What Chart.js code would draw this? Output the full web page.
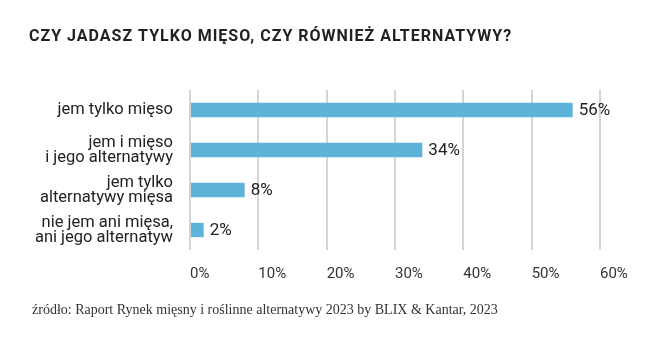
<!DOCTYPE html>
<html>
<head>
<meta charset="utf-8">
<script src="https://cdn.jsdelivr.net/npm/chart.js@4/dist/chart.umd.min.js"></script>
<style>
  html, body { margin: 0; padding: 0; background: #fff; }
  #wrap { width: 649px; height: 347px; position: relative; }
</style>
</head>
<body>
<div id="wrap"><canvas id="meatChart"></canvas></div>
<script>
const title = 'CZY JADASZ TYLKO MIĘSO, CZY RÓWNIEŻ ALTERNATYWY?';
const source = 'źródło: Raport Rynek mięsny i roślinne alternatywy 2023 by BLIX & Kantar, 2023';

const categories = [
  ['jem tylko mięso'],
  ['jem i mięso', 'i jego alternatywy'],
  ['jem tylko', 'alternatywy mięsa'],
  ['nie jem ani mięsa,', 'ani jego alternatyw']
];
const values = [56, 34, 8, 2];
const xTicks = [0, 10, 20, 30, 40, 50, 60];

const BAR = '#5db3d9';
const TEXT = '#222222';
const SANS = 'Roboto, "DejaVu Sans", sans-serif';

// title on top, source line at the bottom
const headerFooter = {
  id: 'headerFooter',
  afterDraw(chart) {
    const ctx = chart.ctx;
    ctx.save();
    ctx.fillStyle = TEXT;
    ctx.textBaseline = 'middle';
    ctx.textAlign = 'left';
    ctx.font = 'bold 16px ' + SANS;
    ctx.letterSpacing = '1px';
    ctx.fillText(title, 29, 37);
    ctx.letterSpacing = '0px';
    ctx.fillStyle = '#333';
    ctx.font = '14px "Liberation Serif", "DejaVu Serif", serif';
    ctx.fillText(source, 32, 310);
    ctx.restore();
  }
};

// percentage next to the end of each bar
const valueLabels = {
  id: 'valueLabels',
  afterDatasetsDraw(chart) {
    const ctx = chart.ctx;
    const meta = chart.getDatasetMeta(0);
    ctx.save();
    ctx.fillStyle = TEXT;
    ctx.font = '17px ' + SANS;
    ctx.textBaseline = 'middle';
    ctx.textAlign = 'left';
    meta.data.forEach((bar, i) => {
      ctx.fillText(values[i] + '%', bar.x + 6, bar.y + 1);
    });
    ctx.restore();
  }
};

const data = {
  labels: categories,
  datasets: [{
    data: values,
    backgroundColor: BAR,
    borderWidth: 0,
    barPercentage: 0.72,
    categoryPercentage: 0.5
  }]
};

const config = {
  type: 'bar',
  data,
  options: {
    indexAxis: 'y',
    responsive: true,
    maintainAspectRatio: false,
    animation: false,
    layout: { padding: { top: 90, right: 49, bottom: 0, left: 0 } },
    plugins: {
      legend: { display: false },
      tooltip: { enabled: false }
    },
    scales: {
      x: {
        min: 0,
        max: 60,
        afterBuildTicks: (axis) => { axis.ticks = xTicks.map(v => ({ value: v })); },
        afterFit: (axis) => { axis.height = 97; },
        grid: { color: '#d4d4d4', lineWidth: 2, drawTicks: false },
        border: { display: false },
        ticks: {
          align: 'start',
          padding: 15,
          color: '#333',
          font: { family: SANS, size: 15 },
          callback: (v) => v + '%'
        }
      },
      y: {
        afterFit: (axis) => { axis.width = 190; },
        grid: { display: false, drawTicks: false },
        border: { display: false },
        ticks: {
          padding: 17,
          color: TEXT,
          font: { family: SANS, size: 16.5, lineHeight: 0.92 }
        }
      }
    }
  },
  plugins: [headerFooter, valueLabels]
};

const meatChart = new Chart(document.getElementById('meatChart'), config);
</script>
</body>
</html>
